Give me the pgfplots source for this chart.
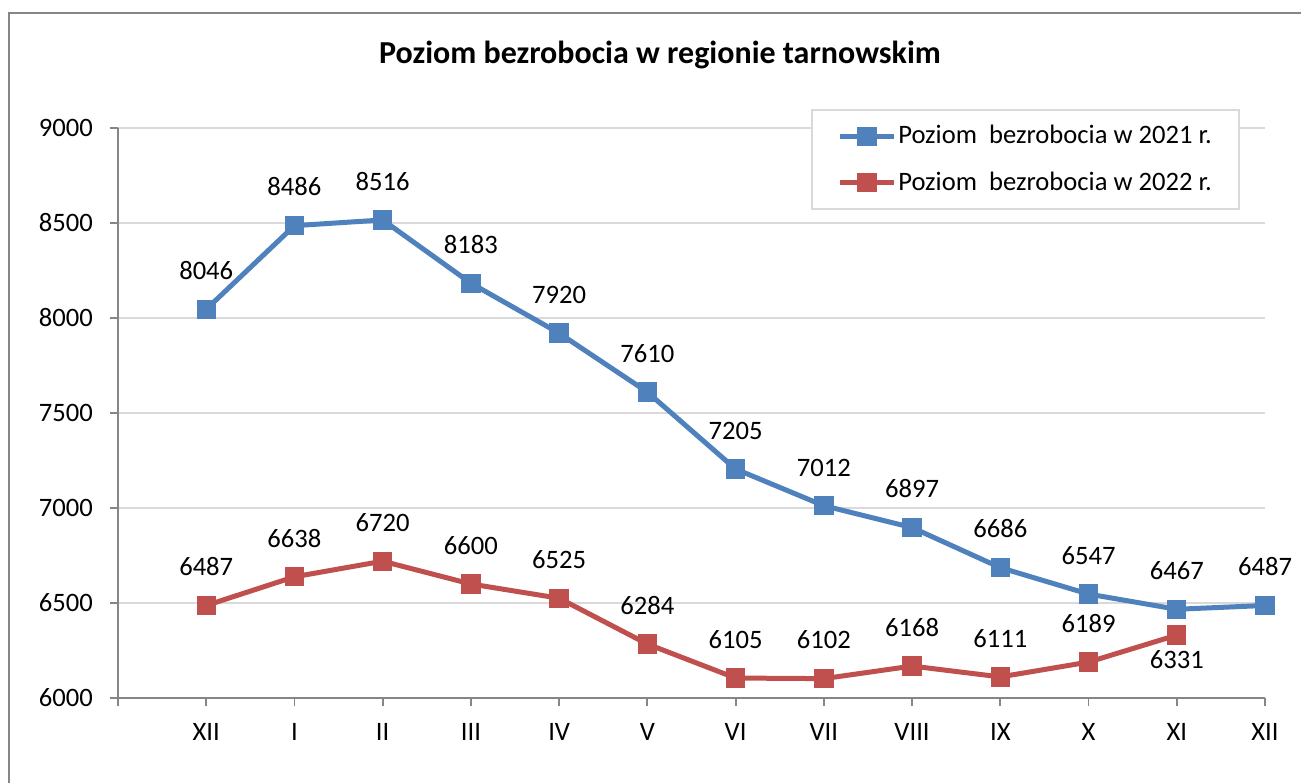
\documentclass[border=0pt]{standalone}
\usepackage{fontspec}
\setmainfont{Carlito}
\usepackage{pgfplots}
\pgfplotsset{compat=1.18}
\definecolor{blu}{HTML}{4F81BD}
\definecolor{rd}{HTML}{C0504D}
\definecolor{axgray}{HTML}{868686}
\definecolor{gridc}{HTML}{D9D9D9}
\begin{document}
\fontsize{13.3}{16}\selectfont
\begin{tikzpicture}
\useasboundingbox (0,0) rectangle (650.5pt,391pt);
\draw[axgray, line width=0.75pt] (4.5pt,-5pt) -- (4.5pt,384.5pt) -- (660pt,384.5pt);
\node[font=\fontsize{16}{19}\selectfont\bfseries] at (330pt,363.5pt) {Poziom bezrobocia w regionie tarnowskim};
\begin{axis}[
 at={(59pt,42pt)}, anchor=south west, scale only axis, width=573.5pt, height=285pt,
 xmin=-1, xmax=12, ymin=6000, ymax=9000,
 xtick={-1,0,...,12}, xticklabels={,XII,I,II,III,IV,V,VI,VII,VIII,IX,X,XI,XII},
 ytick={6000,6500,...,9000},
 axis x line*=bottom, axis y line*=left,
 axis line style={axgray, line width=0.9pt},
 tick style={axgray, line width=0.9pt}, major tick length=4pt, tick align=outside,
 ymajorgrids, grid style={gridc, line width=0.9pt},
 clip=false,
 ticklabel style={font=\fontsize{13.3}{16}\selectfont},
 /pgf/number format/assume math mode=true,
 /pgf/number format/set thousands separator={},
 xticklabel style={yshift=-4pt},
 yticklabel style={xshift=-4pt},
 every axis plot/.append style={line width=2.5pt, mark=square*, mark size=3.6pt, mark options={solid}},
 nodes near coords style={font=\fontsize{13.3}{16}\selectfont, text=black, inner sep=0pt},
 legend style={at={(0.978,1.033)}, anchor=north east, draw=gridc, line width=0.9pt,
   font=\fontsize{13.3}{16}\selectfont, inner xsep=12.5pt, inner ysep=7.5pt, row sep=12pt,
   nodes={inner xsep=1pt, inner ysep=0pt}},
 legend cell align=left,
 legend image code/.code={\draw[mark repeat=2,mark phase=2,#1] plot coordinates {(0pt,0pt)(13.5pt,0pt)(27pt,0pt)};},
]
\addplot[color=blu, nodes near coords, every node near coord/.append style={anchor=south, yshift=13.5pt}] coordinates {
(0,8046)(1,8486)(2,8516)(3,8183)(4,7920)(5,7610)(6,7205)(7,7012)(8,6897)(9,6686)(10,6547)(11,6467)(12,6487)};
\addlegendentry{Poziom\ \ bezrobocia w 2021 r.}
\addplot[color=rd] coordinates {
(0,6487)(1,6638)(2,6720)(3,6600)(4,6525)(5,6284)(6,6105)(7,6102)(8,6168)(9,6111)(10,6189)(11,6331)};
\addlegendentry{Poziom\ \ bezrobocia w 2022 r.}
\addplot[draw=none, mark=none, forget plot, nodes near coords, every node near coord/.append style={anchor=south, yshift=13.5pt}] coordinates {
(0,6487)(1,6638)(2,6720)(3,6600)(4,6525)(5,6284)(6,6105)(7,6102)(8,6168)(9,6111)(10,6189)};
\addplot[draw=none, mark=none, forget plot, nodes near coords, every node near coord/.append style={anchor=north, yshift=-6.5pt}] coordinates {
(11,6331)};
\end{axis}
\end{tikzpicture}
\end{document}
